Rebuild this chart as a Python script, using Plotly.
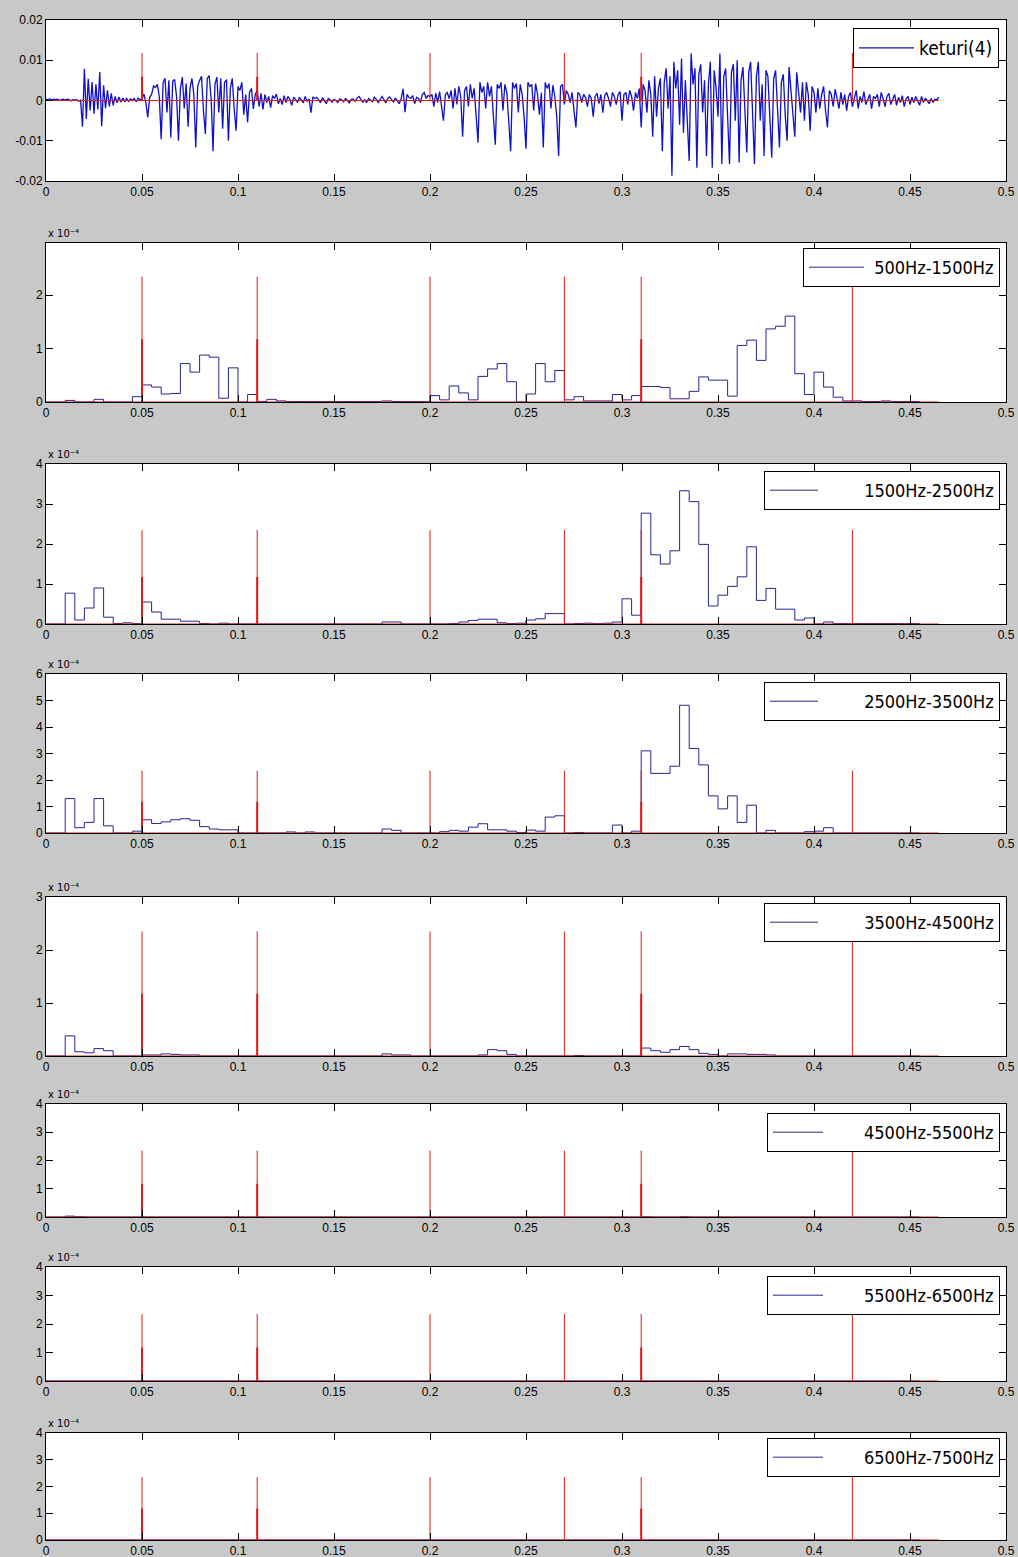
import numpy as np
import plotly.graph_objects as go

# ---------------------------------------------------------------
# keturi(4) speech waveform, one sample per millisecond (units of 1e-3)
# ---------------------------------------------------------------
wave_dt = 0.001
keturi4 = [
    0.3, 0.2, 0.4, 0.1, 0.3, 0.2, 0.3, 0.0, 0.2, 0.3,
    0.1, 0.3, 0.2, -0.1, 0.2, 0.1, 0.2, -0.2, 0.1, -6.5,
    7.9, -4.6, 5.4, -2.5, 4.6, -3.3, 4.0, -2.2, 7.1, -6.4,
    3.8, -1.9, 2.5, -1.5, 1.8, -1.2, 1.0, -0.6, 0.9, -0.4,
    0.6, -0.3, 0.5, -0.2, 0.4, 0.0, 0.5, -0.3, 0.6, 0.2,
    0.5, 1.6, -0.5, -4.2, 0.8, 1.5, 3.6, 3.2, 4.0, 1.0,
    -9.6, 4.5, 5.5, -3.0, 5.0, -9.2, 4.8, 5.2, 1.0, -10.0,
    3.0, 5.8, -2.0, 4.2, -6.5, 3.0, 5.5, 1.5, -11.7, 3.5,
    5.0, 6.0, -2.5, -8.3, 5.5, 6.2, 0.5, -12.6, 4.0, 5.8,
    -3.0, 5.5, -7.0, 4.5, 5.2, -10.0, 3.0, 5.5, -2.0, -7.5,
    3.5, 2.5, 4.5, -3.5, 1.5, -5.4, 2.0, 3.0, -2.1, 1.5,
    2.5, -1.5, 1.8, -2.2, 1.5, -0.5, 1.0, -1.8, 1.2, 0.5,
    1.6, -0.8, 0.5, -1.0, 1.2, -0.5, 1.0, 0.3, -1.2, 0.8,
    0.3, -0.5, 0.8, 0.2, -0.6, 1.0, -0.2, 0.4, -3.0, 0.9,
    0.5, 0.8, 0.2, -0.5, 0.7, 0.0, -0.8, 0.5, 0.2, -0.4,
    0.3, 0.0, -0.5, 0.4, 0.2, -0.3, 0.5, 0.0, -0.6, 0.3,
    0.4, -0.2, 0.6, 1.0, 0.3, -0.4, 0.2, -0.5, 0.5, 0.2,
    -0.3, 0.8, 0.3, -0.5, 0.4, 1.0, 0.2, -0.6, 0.5, 0.9,
    0.2, -0.4, 0.6, 0.0, -0.8, 0.5, 2.9, -2.9, 1.5, 0.8,
    0.5, 1.2, -0.8, 0.8, 0.5, -0.5, 1.5, 2.0, 0.5, 1.2,
    1.0, 1.5, -1.5, 1.8, -0.5, 2.2, -1.0, -5.0, 1.5, 2.0,
    0.5, 2.5, -2.0, 3.0, -1.0, 3.5, 1.0, -9.0, 2.5, 3.5,
    -1.5, 4.0, 0.5, 3.0, -3.5, -10.4, 4.5, 2.0, 3.5, -2.0,
    4.5, 1.0, 3.5, -4.0, -11.0, 4.0, 3.0, 4.5, -2.5, 4.0,
    2.0, -5.0, -12.6, 4.5, 3.0, 4.2, -3.0, 4.0, 1.5, -4.0,
    -12.0, 4.5, 3.5, 4.0, -2.5, 4.2, 1.5, -3.5, 2.0, -11.7,
    4.5, 3.0, 4.2, -2.0, 3.8, 1.0, -4.0, -13.8, 3.5, 4.0,
    -1.0, 2.5, 1.5, -0.5, 2.0, -2.5, -6.7, 2.0, 1.5, -0.5,
    1.5, 0.8, -1.5, 1.5, 0.5, -4.0, 1.0, 1.8, -0.8, 1.5,
    -3.0, 1.2, 2.0, 0.5, -1.5, 2.0, 1.0, -1.0, 1.5, 2.2,
    -5.0, 1.5, 2.0, -1.0, 2.5, 1.0, -2.5, 2.0, 0.5, 3.0,
    -6.7, 4.0, 2.5, -3.0, 5.0, 1.5, -9.0, 6.0, -4.0, 3.0,
    5.5, -12.6, 4.5, 8.0, -2.0, 6.0, -18.7, 9.6, 3.0, 7.5,
    -6.0, 10.4, -8.0, 5.0, -4.0, -15.0, 11.7, 4.0, 8.0, -16.7,
    6.5, 9.0, -3.0, 5.0, -13.8, 4.0, 9.6, -16.7, 7.5, 3.0,
    -4.0, 11.7, -15.8, 6.0, 8.0, -3.5, -15.8, 7.0, 9.0, -5.0,
    10.0, -15.4, 5.0, 8.3, -4.0, -12.9, 7.0, 9.6, -3.0, -15.8,
    6.0, 9.6, -5.0, 4.0, -13.8, 7.5, 6.0, -3.0, -14.2, 5.5,
    7.5, -2.0, -11.7, 4.5, 6.5, -3.5, -10.0, 8.3, 3.0, -2.0,
    -9.0, 7.0, 2.5, -3.0, 4.5, -5.0, 4.6, 1.5, -7.5, 3.5,
    2.0, -3.0, 3.0, -2.0, 1.5, 3.5, -2.5, -6.7, 2.5, 1.5,
    -1.5, 2.8, 0.5, -2.0, 2.0, -1.0, 1.5, -2.5, 1.0, 2.0,
    -1.5, 0.5, 2.5, -2.0, 1.0, -0.5, 2.2, -1.0, 0.5, 1.5,
    -2.0, 1.0, 0.5, 1.5, -1.5, 2.0, 0.5, -1.5, 1.0, 1.8,
    -1.0, 0.5, 1.5, -1.2, 0.8, -0.5, 1.2, -1.5, 0.5, 1.0,
    -1.0, 0.8, -0.5, 1.0, 0.0, -1.2, 1.0, -0.5, 0.5, 0.0,
    -0.8, 0.5, -0.5, 0.3, 0.2, 0.8,
]

# ---------------------------------------------------------------
# Band energies per 5 ms frame (units of 1e-4)
# ---------------------------------------------------------------
frame_dt = 0.005
band_500_1500 = [
    0, 0, 0.03, 0, 0, 0.05, 0, 0, 0, 0.1,
    0.32, 0.28, 0.15, 0.16, 0.72, 0.56, 0.88, 0.84, 0.07, 0.64,
    0.0, 0.14, 0.01, 0.05, 0.02, 0.01, 0.01, 0.01, 0.01, 0.01,
    0.01, 0.01, 0.01, 0.01, 0.01, 0.02, 0.01, 0.01, 0.01, 0.01,
    0.12, 0.04, 0.3, 0.17, 0.04, 0.48, 0.62, 0.72, 0.38, 0.0,
    0.15, 0.72, 0.38, 0.59, 0.04, 0.1, 0.02, 0.02, 0.02, 0.14,
    0.04, 0.12, 0.29, 0.29, 0.27, 0.06, 0.06, 0.2, 0.47, 0.41,
    0.41, 0.11, 1.06, 1.16, 0.78, 1.37, 1.42, 1.61, 0.53, 0.14,
    0.56, 0.28, 0.09, 0.02, 0.02, 0.01, 0.01, 0.02, 0.01, 0.01,
    0.01,
]
band_1500_2500 = [
    0, 0, 0.77, 0.1, 0.4, 0.9, 0.17, 0.01, 0.03, 0.01,
    0.55, 0.3, 0.12, 0.12, 0.07, 0.07, 0.01, 0.0, 0.02, 0.0,
    0, 0, 0, 0, 0, 0, 0, 0, 0, 0,
    0, 0, 0, 0, 0, 0.05, 0.05, 0, 0, 0,
    0, 0, 0.01, 0.05, 0.09, 0.12, 0.12, 0.03, 0.01, 0.02,
    0.1, 0.13, 0.26, 0.26, 0.0, 0.01, 0.02, 0.01, 0.02, 0.05,
    0.63, 0.22, 2.77, 1.73, 1.5, 1.83, 3.33, 3.06, 1.99, 0.45,
    0.72, 0.94, 1.18, 1.93, 0.59, 0.89, 0.37, 0.37, 0.1, 0.15,
    0.0, 0.05, 0.01, 0.01, 0.01, 0.01, 0.01, 0.01, 0.01, 0.01,
    0.01,
]
band_2500_3500 = [
    0, 0, 1.3, 0.2, 0.4, 1.3, 0.27, 0, 0, 0.07,
    0.5, 0.36, 0.42, 0.5, 0.54, 0.48, 0.24, 0.15, 0.12, 0.12,
    0, 0, 0, 0, 0, 0.04, 0, 0.04, 0, 0,
    0, 0, 0, 0, 0, 0.15, 0.1, 0, 0, 0,
    0, 0.05, 0.1, 0.07, 0.22, 0.35, 0.12, 0.12, 0.07, 0.02,
    0.11, 0.07, 0.6, 0.65, 0, 0.02, 0, 0, 0, 0.3,
    0, 0.07, 3.1, 2.25, 2.25, 2.52, 4.82, 3.19, 2.57, 1.4,
    0.91, 1.4, 0.4, 1.05, 0, 0.1, 0, 0, 0, 0.05,
    0.07, 0.2, 0, 0, 0, 0, 0, 0, 0, 0,
    0,
]
band_3500_4500 = [
    0, 0, 0.38, 0.08, 0.06, 0.14, 0.1, 0, 0, 0,
    0.02, 0.02, 0.04, 0.03, 0.02, 0.02, 0, 0, 0, 0,
    0, 0, 0, 0, 0, 0, 0, 0, 0, 0,
    0, 0, 0, 0, 0, 0.04, 0.02, 0.02, 0, 0,
    0, 0, 0, 0, 0, 0.02, 0.12, 0.1, 0.03, 0,
    0, 0, 0, 0, 0, 0.01, 0, 0, 0, 0,
    0, 0, 0.15, 0.1, 0.07, 0.12, 0.18, 0.12, 0.05, 0.03,
    0, 0.04, 0.04, 0.03, 0.03, 0.02, 0, 0, 0, 0,
    0, 0, 0, 0, 0, 0, 0, 0, 0, 0,
    0,
]
band_4500_5500 = [
    0, 0, 0.03, 0.01, 0, 0, 0, 0, 0, 0,
    0, 0, 0, 0, 0, 0, 0, 0, 0, 0,
    0, 0, 0, 0, 0, 0, 0, 0, 0, 0,
    0, 0, 0, 0, 0, 0, 0, 0, 0, 0,
    0, 0, 0, 0, 0, 0, 0, 0, 0, 0,
    0, 0, 0, 0, 0, 0, 0, 0, 0, 0,
    0, 0, 0.01, 0, 0, 0, 0.01, 0, 0, 0,
    0, 0, 0, 0, 0, 0, 0, 0, 0, 0,
    0, 0, 0, 0, 0, 0, 0, 0, 0, 0,
    0,
]
band_5500_6500 = [
    0, 0, 0, 0, 0, 0, 0, 0, 0, 0,
    0, 0, 0, 0, 0, 0, 0, 0, 0, 0,
    0, 0, 0, 0, 0, 0, 0, 0, 0, 0,
    0, 0, 0, 0, 0, 0, 0, 0, 0, 0,
    0, 0, 0, 0, 0, 0, 0, 0, 0, 0,
    0, 0, 0, 0, 0, 0, 0, 0, 0, 0,
    0, 0, 0, 0, 0, 0, 0, 0, 0, 0,
    0, 0, 0, 0, 0, 0, 0, 0, 0, 0,
    0, 0, 0, 0, 0, 0, 0, 0, 0, 0,
    0,
]
band_6500_7500 = [
    0, 0, 0, 0, 0, 0, 0, 0, 0, 0,
    0, 0, 0, 0, 0, 0, 0, 0, 0, 0,
    0, 0, 0, 0, 0, 0, 0, 0, 0, 0,
    0, 0, 0, 0, 0, 0, 0, 0, 0, 0,
    0, 0, 0, 0, 0, 0, 0, 0, 0, 0,
    0, 0, 0, 0, 0, 0, 0, 0, 0, 0,
    0, 0, 0, 0, 0, 0, 0, 0, 0, 0,
    0, 0, 0, 0, 0, 0, 0, 0, 0, 0,
    0, 0, 0, 0, 0, 0, 0, 0, 0, 0,
    0,
]

band_series = [band_500_1500, band_1500_2500, band_2500_3500, band_3500_4500,
               band_4500_5500, band_5500_6500, band_6500_7500]
band_labels = ["500Hz-1500Hz", "1500Hz-2500Hz", "2500Hz-3500Hz", "3500Hz-4500Hz",
               "4500Hz-5500Hz", "5500Hz-6500Hz", "6500Hz-7500Hz"]
band_ymax = [2.98, 4, 6, 3, 4, 4, 4]

# segment boundaries (s) and their marker heights
boundaries = [0.05, 0.11, 0.2, 0.27, 0.31, 0.42]
strong_boundaries = [0.05, 0.11, 0.31]
wave_marker_height = 0.0118
band_marker_height = 2.35
baseline_end = 0.465

time_ticks = [0, 0.05, 0.1, 0.15, 0.2, 0.25, 0.3, 0.35, 0.4, 0.45, 0.5]
time_tick_text = ["0", "0.05", "0.1", "0.15", "0.2", "0.25", "0.3", "0.35", "0.4", "0.45", "0.5"]
wave_ticks = [-0.02, -0.01, 0, 0.01, 0.02]
wave_tick_text = ["-0.02", "-0.01", "0", "0.01", "0.02"]
scale_label = "x 10\u207b\u2074"

# ---------------------------------------------------------------
# Layout geometry (pixels on a 1018 x 1557 page)
# ---------------------------------------------------------------
W, H = 1018, 1557
panel_px = [(20, 181), (243, 402), (464, 624), (674, 833), (897, 1056),
            (1104, 1217), (1267, 1381), (1433, 1540)]
legend_px = [(999, 28), (1000, 248), (1000, 471), (1000, 682), (1000, 903),
             (1000, 1113), (1000, 1276), (1000, 1438)]
legend_pad = [0, 1, 8, 8, 8, 7, 7, 7]
legend_item_w = [55, 55, 48, 48, 48, 50, 50, 50]
x_domain = [46 / W, 1006 / W]

WAVE_BLUE = "#1010c8"
BAND_BLUE = "#26268f"
RED = "rgb(225,25,25)"
TICK_FONT = dict(family="Liberation Sans, Arial, sans-serif", size=12, color="black")
LEGEND_FONT_FAMILY = "Liberation Sans Narrow, DejaVu Sans Condensed, Liberation Sans, sans-serif"


def ax_names(k):
    s = "" if k == 1 else str(k)
    return "x" + s, "y" + s, "legend" + s


def marker_traces(full_h, xa, ya):
    xs, ys = [], []
    for b in boundaries:
        xs += [b, b, None]
        ys += [0, full_h, None]
    xs2, ys2 = [], []
    for b in strong_boundaries:
        xs2 += [b, b, None]
        ys2 += [0, full_h / 2, None]
    return [
        go.Scatter(x=[0, baseline_end], y=[0, 0], mode="lines", xaxis=xa, yaxis=ya,
                   line=dict(color=RED, width=1), showlegend=False, hoverinfo="skip"),
        go.Scatter(x=xs, y=ys, mode="lines", xaxis=xa, yaxis=ya,
                   line=dict(color=RED, width=1), showlegend=False, hoverinfo="skip"),
        go.Scatter(x=xs2, y=ys2, mode="lines", xaxis=xa, yaxis=ya,
                   line=dict(color=RED, width=2), showlegend=False, hoverinfo="skip"),
    ]


fig = go.Figure()

# panel 1: waveform
xa, ya, lg = ax_names(1)
t_wave = np.arange(len(keturi4)) * wave_dt
fig.add_trace(go.Scatter(x=t_wave, y=np.array(keturi4) * 1e-3, mode="lines",
                         name="keturi(4)", xaxis=xa, yaxis=ya, legend=lg,
                         line=dict(color=WAVE_BLUE, width=1.3)))
for tr in marker_traces(wave_marker_height, xa, ya):
    fig.add_trace(tr)

# panels 2..8: band energies as stairs
for i, (vals, label) in enumerate(zip(band_series, band_labels)):
    k = i + 2
    xa, ya, lg = ax_names(k)
    t = list(np.arange(len(vals)) * frame_dt) + [len(vals) * frame_dt]
    v = list(vals) + [vals[-1]]
    name = "\u00a0" * legend_pad[k - 1] + label
    fig.add_trace(go.Scatter(x=t, y=v, mode="lines", line_shape="hv", name=name,
                             xaxis=xa, yaxis=ya, legend=lg,
                             line=dict(color=BAND_BLUE, width=1)))
    for tr in marker_traces(band_marker_height, xa, ya):
        fig.add_trace(tr)

layout = dict(
    template="none",
    width=W, height=H,
    margin=dict(l=0, r=0, t=0, b=0, autoexpand=False),
    paper_bgcolor="rgb(200,200,200)",
    plot_bgcolor="white",
    annotations=[],
)

axis_common = dict(showline=True, linecolor="black", linewidth=1, mirror="ticks",
                   ticks="inside", ticklen=7, tickcolor="black", tickwidth=1,
                   showgrid=False, zeroline=False, automargin=False, tickfont=TICK_FONT)

for k in range(1, 9):
    top, bot = panel_px[k - 1]
    ydom = [1 - bot / H, 1 - top / H]
    s = "" if k == 1 else str(k)
    layout["xaxis" + s] = dict(axis_common, domain=x_domain, anchor="y" + s,
                               range=[0, 0.5], tickmode="array",
                               tickvals=time_ticks, ticktext=time_tick_text)
    if k == 1:
        layout["yaxis"] = dict(axis_common, domain=ydom, anchor="x", range=[-0.02, 0.02],
                               tickmode="array", tickvals=wave_ticks, ticktext=wave_tick_text)
    else:
        ymax = band_ymax[k - 2]
        yt = [v for v in range(0, 7) if v <= ymax]
        layout["yaxis" + s] = dict(axis_common, domain=ydom, anchor="x" + s,
                                   range=[0, ymax], tickmode="array",
                                   tickvals=yt, ticktext=[str(v) for v in yt])
        layout["annotations"].append(dict(
            text=scale_label, xref="paper", yref="paper",
            x=46 / W, y=1 - (top - 2) / H, xanchor="left", yanchor="bottom",
            showarrow=False, font=dict(family="DejaVu Sans, Liberation Sans, sans-serif",
                                       size=10, color="black")))
    lx, ly = legend_px[k - 1]
    layout["legend" + s] = dict(
        x=lx / W, y=1 - ly / H, xanchor="right", yanchor="top",
        bgcolor="white", bordercolor="black", borderwidth=1,
        font=dict(family=LEGEND_FONT_FAMILY, size=19 if k == 1 else 18, color="black"),
        itemwidth=legend_item_w[k - 1], tracegroupgap=0)

fig.update_layout(**layout)
fig.write_html("out.html")
